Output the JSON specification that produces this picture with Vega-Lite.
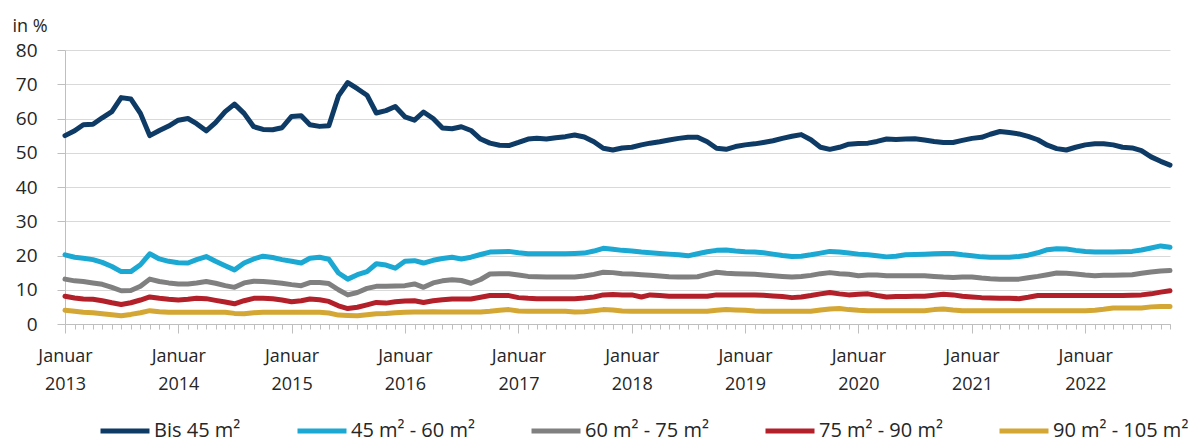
{
  "$schema": "https://vega.github.io/schema/vega-lite/v6.json",
  "width": 1105,
  "height": 274,
  "autosize": "none",
  "padding": {"left": 65, "top": 50, "right": 30, "bottom": 117},
  "background": "white",
  "config": {"view": {"stroke": null}, "font": "Open Sans"},
  "data": {"values": [
    {"t":"2013-01-01","a":55.0,"b":20.2,"c":13.1,"d":8.1,"e":4.0},
    {"t":"2013-02-01","a":56.4,"b":19.5,"c":12.6,"d":7.6,"e":3.7},
    {"t":"2013-03-01","a":58.2,"b":19.2,"c":12.4,"d":7.3,"e":3.4},
    {"t":"2013-04-01","a":58.3,"b":18.8,"c":12.0,"d":7.2,"e":3.3},
    {"t":"2013-05-01","a":60.2,"b":18.0,"c":11.6,"d":6.8,"e":3.0},
    {"t":"2013-06-01","a":62.0,"b":16.8,"c":10.7,"d":6.2,"e":2.7},
    {"t":"2013-07-01","a":66.1,"b":15.3,"c":9.7,"d":5.7,"e":2.4},
    {"t":"2013-08-01","a":65.7,"b":15.3,"c":9.8,"d":6.2,"e":2.8},
    {"t":"2013-09-01","a":61.5,"b":17.3,"c":11.0,"d":7.0,"e":3.3},
    {"t":"2013-10-01","a":55.0,"b":20.5,"c":13.1,"d":7.9,"e":3.9},
    {"t":"2013-11-01","a":56.5,"b":19.0,"c":12.4,"d":7.5,"e":3.6},
    {"t":"2013-12-01","a":57.8,"b":18.3,"c":12.0,"d":7.2,"e":3.4},
    {"t":"2014-01-01","a":59.5,"b":17.9,"c":11.7,"d":7.0,"e":3.4},
    {"t":"2014-02-01","a":60.0,"b":17.8,"c":11.7,"d":7.2,"e":3.4},
    {"t":"2014-03-01","a":58.5,"b":18.8,"c":12.0,"d":7.5,"e":3.4},
    {"t":"2014-04-01","a":56.4,"b":19.7,"c":12.4,"d":7.4,"e":3.4},
    {"t":"2014-05-01","a":58.8,"b":18.3,"c":11.9,"d":6.9,"e":3.4},
    {"t":"2014-06-01","a":62.0,"b":17.0,"c":11.2,"d":6.4,"e":3.4},
    {"t":"2014-07-01","a":64.2,"b":15.8,"c":10.7,"d":5.9,"e":3.1},
    {"t":"2014-08-01","a":61.5,"b":17.8,"c":12.0,"d":6.8,"e":3.0},
    {"t":"2014-09-01","a":57.6,"b":19.0,"c":12.5,"d":7.5,"e":3.3},
    {"t":"2014-10-01","a":56.8,"b":19.8,"c":12.4,"d":7.5,"e":3.4},
    {"t":"2014-11-01","a":56.7,"b":19.4,"c":12.2,"d":7.4,"e":3.4},
    {"t":"2014-12-01","a":57.3,"b":18.8,"c":11.9,"d":7.0,"e":3.4},
    {"t":"2015-01-01","a":60.6,"b":18.3,"c":11.5,"d":6.5,"e":3.4},
    {"t":"2015-02-01","a":60.8,"b":17.8,"c":11.2,"d":6.8,"e":3.4},
    {"t":"2015-03-01","a":58.2,"b":19.2,"c":12.1,"d":7.3,"e":3.4},
    {"t":"2015-04-01","a":57.7,"b":19.5,"c":12.1,"d":7.1,"e":3.4},
    {"t":"2015-05-01","a":57.9,"b":18.9,"c":11.8,"d":6.6,"e":3.2},
    {"t":"2015-06-01","a":66.6,"b":14.9,"c":10.0,"d":5.3,"e":2.6},
    {"t":"2015-07-01","a":70.5,"b":13.1,"c":8.5,"d":4.5,"e":2.5},
    {"t":"2015-08-01","a":68.7,"b":14.4,"c":9.2,"d":4.9,"e":2.4},
    {"t":"2015-09-01","a":66.8,"b":15.3,"c":10.4,"d":5.6,"e":2.7},
    {"t":"2015-10-01","a":61.6,"b":17.6,"c":11.0,"d":6.3,"e":3.0},
    {"t":"2015-11-01","a":62.3,"b":17.2,"c":11.0,"d":6.1,"e":3.1},
    {"t":"2015-12-01","a":63.5,"b":16.3,"c":11.1,"d":6.5,"e":3.3},
    {"t":"2016-01-01","a":60.5,"b":18.3,"c":11.2,"d":6.7,"e":3.4},
    {"t":"2016-02-01","a":59.5,"b":18.5,"c":11.7,"d":6.8,"e":3.5},
    {"t":"2016-03-01","a":61.9,"b":17.8,"c":10.7,"d":6.3,"e":3.5},
    {"t":"2016-04-01","a":60.0,"b":18.6,"c":12.0,"d":6.8,"e":3.6},
    {"t":"2016-05-01","a":57.2,"b":19.1,"c":12.6,"d":7.1,"e":3.5},
    {"t":"2016-06-01","a":57.0,"b":19.5,"c":12.9,"d":7.3,"e":3.5},
    {"t":"2016-07-01","a":57.6,"b":19.0,"c":12.7,"d":7.3,"e":3.5},
    {"t":"2016-08-01","a":56.5,"b":19.5,"c":11.9,"d":7.3,"e":3.5},
    {"t":"2016-09-01","a":54.0,"b":20.3,"c":13.0,"d":7.8,"e":3.5},
    {"t":"2016-10-01","a":52.8,"b":21.0,"c":14.6,"d":8.3,"e":3.7},
    {"t":"2016-11-01","a":52.2,"b":21.1,"c":14.7,"d":8.3,"e":4.0},
    {"t":"2016-12-01","a":52.1,"b":21.2,"c":14.7,"d":8.3,"e":4.2},
    {"t":"2017-01-01","a":53.0,"b":20.8,"c":14.3,"d":7.7,"e":3.8},
    {"t":"2017-02-01","a":54.0,"b":20.5,"c":13.9,"d":7.5,"e":3.7},
    {"t":"2017-03-01","a":54.2,"b":20.5,"c":13.8,"d":7.4,"e":3.7},
    {"t":"2017-04-01","a":54.0,"b":20.5,"c":13.7,"d":7.4,"e":3.7},
    {"t":"2017-05-01","a":54.4,"b":20.5,"c":13.7,"d":7.4,"e":3.7},
    {"t":"2017-06-01","a":54.7,"b":20.5,"c":13.7,"d":7.4,"e":3.7},
    {"t":"2017-07-01","a":55.2,"b":20.6,"c":13.7,"d":7.4,"e":3.5},
    {"t":"2017-08-01","a":54.6,"b":20.7,"c":14.0,"d":7.6,"e":3.6},
    {"t":"2017-09-01","a":53.2,"b":21.3,"c":14.5,"d":7.9,"e":3.9},
    {"t":"2017-10-01","a":51.3,"b":22.1,"c":15.1,"d":8.5,"e":4.2},
    {"t":"2017-11-01","a":50.8,"b":21.8,"c":15.0,"d":8.6,"e":4.1},
    {"t":"2017-12-01","a":51.4,"b":21.5,"c":14.7,"d":8.5,"e":3.8},
    {"t":"2018-01-01","a":51.6,"b":21.3,"c":14.6,"d":8.5,"e":3.7},
    {"t":"2018-02-01","a":52.3,"b":21.0,"c":14.4,"d":7.9,"e":3.7},
    {"t":"2018-03-01","a":52.8,"b":20.8,"c":14.2,"d":8.5,"e":3.7},
    {"t":"2018-04-01","a":53.2,"b":20.6,"c":14.0,"d":8.3,"e":3.7},
    {"t":"2018-05-01","a":53.7,"b":20.4,"c":13.8,"d":8.1,"e":3.7},
    {"t":"2018-06-01","a":54.2,"b":20.2,"c":13.7,"d":8.1,"e":3.7},
    {"t":"2018-07-01","a":54.5,"b":19.9,"c":13.7,"d":8.1,"e":3.7},
    {"t":"2018-08-01","a":54.5,"b":20.5,"c":13.8,"d":8.1,"e":3.7},
    {"t":"2018-09-01","a":53.2,"b":21.1,"c":14.5,"d":8.1,"e":3.7},
    {"t":"2018-10-01","a":51.3,"b":21.5,"c":15.1,"d":8.5,"e":4.0},
    {"t":"2018-11-01","a":51.0,"b":21.6,"c":14.8,"d":8.5,"e":4.2},
    {"t":"2018-12-01","a":51.8,"b":21.3,"c":14.7,"d":8.5,"e":4.1},
    {"t":"2019-01-01","a":52.3,"b":21.1,"c":14.6,"d":8.5,"e":4.0},
    {"t":"2019-02-01","a":52.6,"b":21.0,"c":14.5,"d":8.5,"e":3.8},
    {"t":"2019-03-01","a":53.0,"b":20.8,"c":14.3,"d":8.4,"e":3.7},
    {"t":"2019-04-01","a":53.5,"b":20.4,"c":14.1,"d":8.2,"e":3.7},
    {"t":"2019-05-01","a":54.2,"b":20.0,"c":13.9,"d":8.0,"e":3.7},
    {"t":"2019-06-01","a":54.8,"b":19.7,"c":13.7,"d":7.7,"e":3.7},
    {"t":"2019-07-01","a":55.3,"b":19.8,"c":13.9,"d":7.9,"e":3.7},
    {"t":"2019-08-01","a":53.8,"b":20.2,"c":14.2,"d":8.3,"e":3.7},
    {"t":"2019-09-01","a":51.6,"b":20.7,"c":14.7,"d":8.8,"e":4.1},
    {"t":"2019-10-01","a":51.0,"b":21.2,"c":15.0,"d":9.2,"e":4.4},
    {"t":"2019-11-01","a":51.6,"b":21.0,"c":14.7,"d":8.8,"e":4.5},
    {"t":"2019-12-01","a":52.5,"b":20.7,"c":14.5,"d":8.5,"e":4.2},
    {"t":"2020-01-01","a":52.7,"b":20.4,"c":14.1,"d":8.7,"e":4.0},
    {"t":"2020-02-01","a":52.8,"b":20.2,"c":14.3,"d":8.8,"e":3.9},
    {"t":"2020-03-01","a":53.3,"b":19.9,"c":14.3,"d":8.3,"e":3.9},
    {"t":"2020-04-01","a":54.0,"b":19.6,"c":14.1,"d":7.9,"e":3.9},
    {"t":"2020-05-01","a":53.9,"b":19.8,"c":14.1,"d":8.0,"e":3.9},
    {"t":"2020-06-01","a":54.0,"b":20.2,"c":14.1,"d":8.0,"e":3.9},
    {"t":"2020-07-01","a":54.1,"b":20.3,"c":14.1,"d":8.1,"e":3.9},
    {"t":"2020-08-01","a":53.7,"b":20.4,"c":14.1,"d":8.1,"e":3.9},
    {"t":"2020-09-01","a":53.3,"b":20.5,"c":13.9,"d":8.4,"e":4.2},
    {"t":"2020-10-01","a":53.0,"b":20.6,"c":13.7,"d":8.7,"e":4.4},
    {"t":"2020-11-01","a":53.0,"b":20.6,"c":13.6,"d":8.5,"e":4.1},
    {"t":"2020-12-01","a":53.6,"b":20.2,"c":13.7,"d":8.1,"e":3.9},
    {"t":"2021-01-01","a":54.2,"b":19.9,"c":13.7,"d":7.9,"e":3.9},
    {"t":"2021-02-01","a":54.5,"b":19.6,"c":13.4,"d":7.7,"e":3.9},
    {"t":"2021-03-01","a":55.4,"b":19.5,"c":13.2,"d":7.6,"e":3.9},
    {"t":"2021-04-01","a":56.2,"b":19.5,"c":13.1,"d":7.5,"e":3.9},
    {"t":"2021-05-01","a":55.9,"b":19.5,"c":13.1,"d":7.5,"e":3.9},
    {"t":"2021-06-01","a":55.5,"b":19.7,"c":13.1,"d":7.4,"e":3.9},
    {"t":"2021-07-01","a":54.8,"b":20.1,"c":13.5,"d":7.8,"e":3.9},
    {"t":"2021-08-01","a":53.8,"b":20.8,"c":13.9,"d":8.3,"e":3.9},
    {"t":"2021-09-01","a":52.2,"b":21.7,"c":14.4,"d":8.3,"e":3.9},
    {"t":"2021-10-01","a":51.2,"b":22.0,"c":14.9,"d":8.3,"e":3.9},
    {"t":"2021-11-01","a":50.8,"b":21.9,"c":14.8,"d":8.3,"e":3.9},
    {"t":"2021-12-01","a":51.6,"b":21.5,"c":14.6,"d":8.3,"e":3.9},
    {"t":"2022-01-01","a":52.3,"b":21.2,"c":14.3,"d":8.3,"e":3.9},
    {"t":"2022-02-01","a":52.6,"b":21.0,"c":14.1,"d":8.3,"e":4.0},
    {"t":"2022-03-01","a":52.6,"b":21.0,"c":14.2,"d":8.3,"e":4.3},
    {"t":"2022-04-01","a":52.3,"b":21.0,"c":14.2,"d":8.3,"e":4.7},
    {"t":"2022-05-01","a":51.6,"b":21.1,"c":14.3,"d":8.3,"e":4.7},
    {"t":"2022-06-01","a":51.4,"b":21.2,"c":14.4,"d":8.4,"e":4.7},
    {"t":"2022-07-01","a":50.6,"b":21.6,"c":14.8,"d":8.5,"e":4.7},
    {"t":"2022-08-01","a":48.8,"b":22.2,"c":15.2,"d":8.8,"e":5.0},
    {"t":"2022-09-01","a":47.5,"b":22.8,"c":15.5,"d":9.3,"e":5.1},
    {"t":"2022-10-01","a":46.4,"b":22.4,"c":15.6,"d":9.7,"e":5.1}
  ]},
  "transform": [{"fold": ["a", "b", "c", "d", "e"], "as": ["serie", "wert"]}],
  "mark": {"type": "line", "strokeWidth": 5, "strokeJoin": "round", "strokeCap": "round"},
  "encoding": {
    "x": {
      "field": "t", "type": "temporal",
      "scale": {"type": "utc", "domain": ["2013-01-01", "2022-10-01"]},
      "axis": {
        "title": null,
        "grid": false,
        "tickCount": {"interval": "month", "step": 1},
        "labelExpr": "utcmonth(datum.value) == 0 ? ['Januar', utcFormat(datum.value, '%Y')] : ''",
        "labelOverlap": false,
        "labelFlush": false,
        "labelBound": false,
        "labelBaseline": "top",
        "labelFont": "Open Sans",
        "labelFontSize": 18,
        "labelColor": "#262626",
        "labelLineHeight": 28,
        "labelPadding": 14,
        "domainColor": "#BFBFBF",
        "tickColor": "#BFBFBF",
        "tickSize": {"condition": {"test": "utcmonth(datum.value) == 0", "value": 9}, "value": 5}
      }
    },
    "y": {
      "field": "wert", "type": "quantitative",
      "scale": {"domain": [0, 80], "nice": false},
      "axis": {
        "values": [0, 10, 20, 30, 40, 50, 60, 70, 80],
        "grid": true,
        "gridColor": "#D9D9D9",
        "domainColor": "#BFBFBF",
        "tickColor": "#BFBFBF",
        "tickSize": 8,
        "labelPadding": 20,
        "labelFont": "Open Sans",
        "labelFontSize": 19,
        "labelColor": "#262626",
        "title": "in %",
        "titleFont": "Open Sans",
        "titleFontSize": 18,
        "titleFontWeight": "normal",
        "titleColor": "#262626",
        "titleAngle": 0,
        "titleAlign": "left",
        "titleBaseline": "alphabetic",
        "titleX": -53,
        "titleY": -19
      }
    },
    "color": {
      "field": "serie", "type": "nominal",
      "scale": {"domain": ["a", "b", "c", "d", "e"], "range": ["#0E3A66", "#1BA8D3", "#808080", "#B3202A", "#D4A634"]},
      "legend": {
        "orient": "none",
        "legendX": 33,
        "legendY": 354,
        "direction": "horizontal",
        "title": null,
        "symbolType": "stroke",
        "symbolSize": 2400,
        "symbolStrokeWidth": 5,
        "labelFont": "Open Sans",
        "labelFontSize": 20,
        "labelColor": "#262626",
        "labelOffset": 2,
        "labelLimit": 300,
        "columnPadding": 46,
        "labelExpr": "datum.label == 'a' ? 'Bis 45 m²' : datum.label == 'b' ? '45 m² - 60 m²' : datum.label == 'c' ? '60 m² - 75 m²' : datum.label == 'd' ? '75 m² - 90 m²' : '90 m² - 105 m²'"
      }
    }
  }
}
